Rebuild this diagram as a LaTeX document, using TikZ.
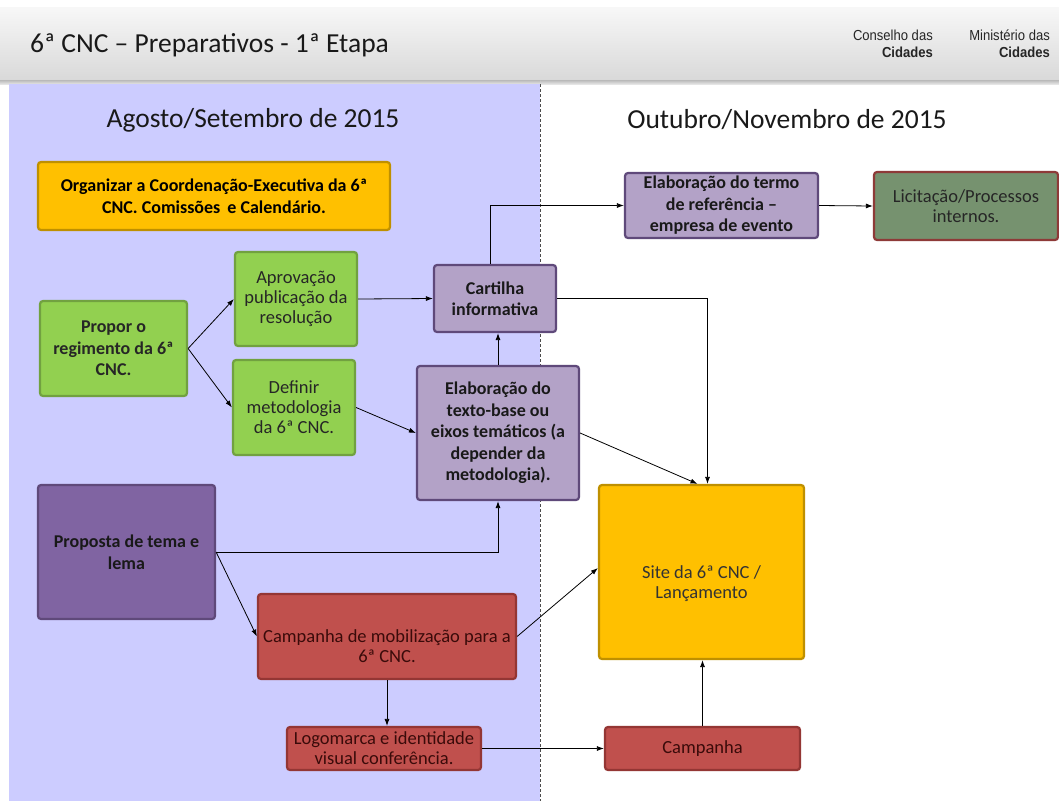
\documentclass[tikz,border=0pt]{standalone}
\usepackage{fontspec}
\setmainfont{Carlito}
\newfontfamily\hdrfont[FakeStretch=0.9]{Liberation Sans}
\usetikzlibrary{arrows.meta,calc}
\definecolor{lav}{HTML}{CCCCFF}
\definecolor{orF}{HTML}{FFC000}
\definecolor{orD}{HTML}{BF9000}
\definecolor{grF}{HTML}{92D050}
\definecolor{grD}{HTML}{71A140}
\definecolor{puF}{HTML}{B3A2C7}
\definecolor{puD}{HTML}{5F497A}
\definecolor{pdF}{HTML}{8064A2}
\definecolor{rdF}{HTML}{C0504D}
\definecolor{rdD}{HTML}{943634}
\definecolor{liF}{HTML}{76926F}
\definecolor{liD}{HTML}{8E3A38}
\definecolor{rdT}{HTML}{3A0B0A}
\tikzset{
  box/.style={draw, line width=2.2pt, rounded corners=3pt, align=center, inner sep=2pt,
    font=\fontsize{18.5}{20}\selectfont},
  boldbox/.style={box, font=\fontsize{18}{21.5}\selectfont\bfseries},
  orbox/.style={fill=orF, draw=orD},
  grbox/.style={fill=grF, draw=grD, text=black!85},
  pubox/.style={fill=puF, draw=puD, text=black!90},
  pdbox/.style={fill=pdF, draw=puD, text={black!90}},
  rdbox/.style={fill=rdF, draw=rdD, text=rdT},
  libox/.style={fill=liF, draw=liD, text=black!85},
  conn/.style={draw=black, line width=0.8pt, -{Latex[length=7pt,width=5pt]}},
  heading/.style={font=\fontsize{27.5}{30}\selectfont, text=black!90},
  txt/.style={align=center, font=\fontsize{18.5}{20}\selectfont, inner sep=0pt},
  hdr/.style={anchor=north east, align=right, inner sep=0pt, font=\hdrfont\fontsize{14.5}{17}\selectfont, text=black!85}
}
\begin{document}
\begin{tikzpicture}[x=1pt,y=-1pt]
\useasboundingbox (0,0) rectangle (1059,801);
\fill[white] (0,0) rectangle (1059,801);
% header
\shade[top color=gray!6, bottom color=gray!30] (0,7) rectangle (1059,80);
\shade[top color=gray!55, bottom color=gray!20] (0,80) rectangle (1059,84);
% left panel
\fill[lav] (9,84) rectangle (540,801);
\draw[black!70, line width=0.7pt, dash pattern=on 3pt off 2pt] (540,84) -- (540,801);
% title
\node[anchor=west, font=\fontsize{27.5}{30}\selectfont, text=black!90, inner sep=0pt] (title) at (30,45) {6ª CNC – Preparativos - 1ª Etapa};
\node[hdr] (cons) at (933,30) {Conselho das\\\textbf{Cidades}};
\node[hdr] (mini) at (1050,30) {Ministério das\\\textbf{Cidades}};
% headings
\node[heading] (h1) at (253,120) {Agosto/Setembro de 2015};
\node[heading] (h2) at (787,120) {Outubro/Novembro de 2015};
% boxes
\node[boldbox, orbox, minimum width=352, minimum height=68] (org) at (214,196) {Organizar a Coordenação-Executiva da 6ª\\CNC. Comissões\, e Calendário.};
\node[boldbox, grbox, minimum width=147, minimum height=95] (propor) at (113.5,348.5) {Propor o\\regimento da 6ª\\CNC.};
\node[box, grbox, minimum width=122, minimum height=94] (aprov) at (296,299) {Aprovação\\publicação da\\resolução};
\node[box, grbox, minimum width=122, minimum height=95] (defin) at (294,407.5) {Definir\\metodologia\\da 6ª CNC.};
\node[boldbox, pubox, minimum width=122, minimum height=67] (cart) at (495,298.5) {Cartilha\\informativa};
\node[boldbox, pubox, minimum width=162, minimum height=134] (texto) at (498,433) {Elaboração do\\texto-base ou\\eixos temáticos (a\\depender da\\metodologia).};
\node[boldbox, pubox, minimum width=193, minimum height=65] (termo) at (721.5,205.5) {Elaboração do termo\\de referência –\\empresa de evento};
\node[box, libox, minimum width=184, minimum height=68] (licit) at (966,206) {Licitação/Processos\\internos.};
\node[boldbox, pdbox, minimum width=177, minimum height=134] (prop) at (126.5,552) {Proposta de tema e\\lema};
\node[box, rdbox, minimum width=258, minimum height=85] (cmob) at (387,636.5) {};
\node[txt, text=rdT] (cmobt) at (387,646) {Campanha de mobilização para a\\6ª CNC.};
\node[box, rdbox, minimum width=194, minimum height=43] (logo) at (384,748.5) {Logomarca e identidade\\visual conferência.};
\node[box, orbox, minimum width=205, minimum height=174] (site) at (701.5,572) {};
\node[txt, text=black!80] (sitet) at (701.5,584) {Site da 6ª CNC /\\Lançamento};
\node[box, rdbox, minimum width=195, minimum height=43] (camp) at (702.5,748.5) {Campanha};
% connectors
\draw[conn] (propor.east) -- (aprov.west);
\draw[conn] (propor.east) -- (defin.west);
\draw[conn] (aprov.east) -- (cart.west);
\draw[conn] (defin.east) -- (texto.west);
\draw[conn] (texto.north) -- (texto.north |- cart.south);
\draw[conn] ([xshift=-5pt]cart.north) |- (termo.west);
\draw[conn] (termo.east) -- (licit.west);
\draw[conn] (cart.east) -| ([xshift=6pt]site.north);
\draw[conn] (texto.east) -- ([xshift=-4pt]site.north);
\draw[conn] (prop.east) -| (texto.south);
\draw[conn] (prop.east) -- (cmob.west);
\draw[conn] (cmob.east) -- ([yshift=4pt]site.west);
\draw[conn] (cmob.south) -- (cmob.south |- logo.north);
\draw[conn] (logo.east) -- (camp.west);
\draw[conn] (camp.north) -- (camp.north |- site.south);
\end{tikzpicture}
\end{document}
